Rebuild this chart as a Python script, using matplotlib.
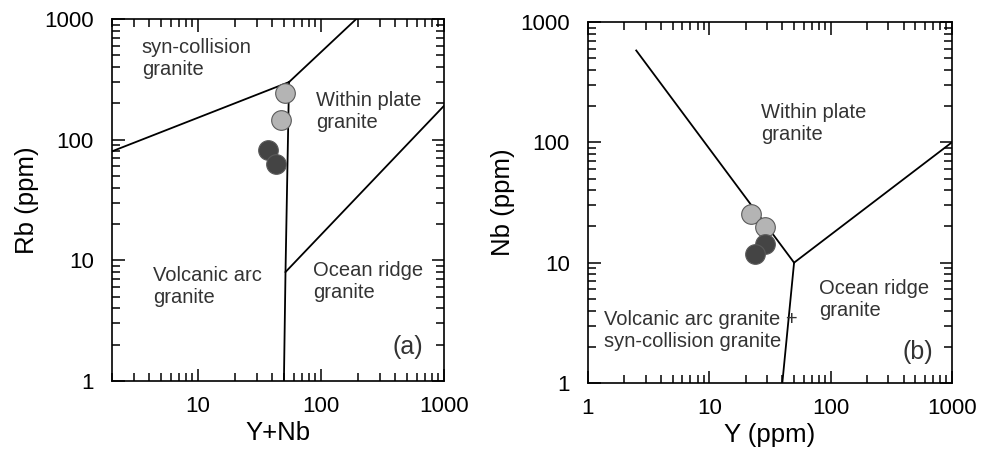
import numpy as np
import matplotlib
matplotlib.use('Agg')
import matplotlib.pyplot as plt
from matplotlib.ticker import LogLocator, NullFormatter, FixedFormatter, FixedLocator

plt.rcParams['font.family'] = ['Liberation Sans', 'DejaVu Sans']

# (a) Rb vs Y+Nb - sample points
a_light_x = [51, 47]
a_light_y = [244, 145]
a_dark_x = [37.4, 43.5]
a_dark_y = [82.6, 63.2]

# (a) field boundaries (Pearce et al. 1984)
a_syn_vag_x = [2, 55]
a_syn_vag_y = [80, 300]
a_syn_wpg_x = [55, 400]
a_syn_wpg_y = [300, 2000]
a_vag_wpg_x = [55, 51.5, 50]
a_vag_wpg_y = [300, 8, 1]
a_org_wpg_x = [51.5, 2000]
a_org_wpg_y = [8, 400]

# (b) Nb vs Y - sample points
b_light_x = [22.1, 29]
b_light_y = [25.3, 19.8]
b_dark_x = [29, 23.9]
b_dark_y = [14.2, 11.9]

# (b) field boundaries
b_wpg_vag_x = [2.5, 50]
b_wpg_vag_y = [580, 10]
b_org_wpg_x = [50, 1000]
b_org_wpg_y = [10, 100]
b_vag_org_x = [50, 40]
b_vag_org_y = [10, 1]

tick_labels = ['1', '10', '100', '1000']
tick_vals = [1, 10, 100, 1000]

light_c = '#b4b4b4'
dark_c = '#444444'
edge_c = '#5a5a5a'
text_c = '#333333'


def style_axes(ax, xlim, ylim, xlabel, ylabel):
    ax.set_xscale('log')
    ax.set_yscale('log')
    ax.set_xlim(*xlim)
    ax.set_ylim(*ylim)
    ax.xaxis.set_major_locator(FixedLocator(tick_vals))
    ax.yaxis.set_major_locator(FixedLocator(tick_vals))
    ax.xaxis.set_major_formatter(FixedFormatter(tick_labels))
    ax.yaxis.set_major_formatter(FixedFormatter(tick_labels))
    ax.xaxis.set_minor_locator(LogLocator(base=10, subs=np.arange(2, 10), numticks=20))
    ax.yaxis.set_minor_locator(LogLocator(base=10, subs=np.arange(2, 10), numticks=20))
    ax.xaxis.set_minor_formatter(NullFormatter())
    ax.yaxis.set_minor_formatter(NullFormatter())
    ax.tick_params(which='both', direction='in', top=True, right=True,
                   width=1.1, colors='black', labelsize=16)
    ax.tick_params(which='major', length=9)
    ax.tick_params(axis='y', which='major', pad=13)
    ax.tick_params(axis='x', which='major', pad=11)
    ax.tick_params(which='minor', length=6)
    for s in ax.spines.values():
        s.set_linewidth(1.2)
    ax.set_xlabel(xlabel, fontsize=18.5, labelpad=3)
    ax.set_ylabel(ylabel, fontsize=18.5, labelpad=4)


def main():
    fig = plt.figure(figsize=(9.89, 4.51), dpi=100)
    ax1 = fig.add_axes([0.1132, 0.1552, 0.3357, 0.8027])
    ax2 = fig.add_axes([0.5945, 0.1508, 0.3680, 0.8004])

    # panel (a)
    for xs, ys in [(a_syn_vag_x, a_syn_vag_y), (a_syn_wpg_x, a_syn_wpg_y),
                   (a_vag_wpg_x, a_vag_wpg_y), (a_org_wpg_x, a_org_wpg_y)]:
        ax1.plot(xs, ys, color='black', lw=1.3, zorder=2)
    ax1.scatter(a_light_x, a_light_y, s=200, c=light_c, edgecolors=edge_c, linewidths=0.8, zorder=3)
    ax1.scatter(a_dark_x, a_dark_y, s=200, c=dark_c, edgecolors=edge_c, linewidths=0.8, zorder=4)
    style_axes(ax1, (2, 1000), (1, 1000), 'Y+Nb', 'Rb (ppm)')
    kw = dict(fontsize=14.5, color=text_c, linespacing=1.2, va='center', ha='left')
    ax1.text(0.09, 0.892, 'syn-collision\ngranite', transform=ax1.transAxes, **kw)
    ax1.text(0.615, 0.745, 'Within plate\ngranite', transform=ax1.transAxes, **kw)
    ax1.text(0.125, 0.26, 'Volcanic arc\ngranite', transform=ax1.transAxes, **kw)
    ax1.text(0.605, 0.275, 'Ocean ridge\ngranite', transform=ax1.transAxes, **kw)
    ax1.text(0.845, 0.095, '(a)', transform=ax1.transAxes, fontsize=18, color=text_c,
             va='center', ha='left')

    # panel (b)
    for xs, ys in [(b_wpg_vag_x, b_wpg_vag_y), (b_org_wpg_x, b_org_wpg_y),
                   (b_vag_org_x, b_vag_org_y)]:
        ax2.plot(xs, ys, color='black', lw=1.3, zorder=2)
    ax2.scatter(b_light_x, b_light_y, s=200, c=light_c, edgecolors=edge_c, linewidths=0.8, zorder=3)
    ax2.scatter(b_dark_x, b_dark_y, s=200, c=dark_c, edgecolors=edge_c, linewidths=0.8, zorder=4)
    style_axes(ax2, (1, 1000), (1, 1000), 'Y (ppm)', 'Nb (ppm)')
    ax2.text(0.475, 0.72, 'Within plate\ngranite', transform=ax2.transAxes, **kw)
    ax2.text(0.635, 0.23, 'Ocean ridge\ngranite', transform=ax2.transAxes, **kw)
    ax2.text(0.045, 0.145, 'Volcanic arc granite +\nsyn-collision granite',
             transform=ax2.transAxes, **kw)
    ax2.text(0.865, 0.085, '(b)', transform=ax2.transAxes, fontsize=18, color=text_c,
             va='center', ha='left')

    fig.savefig('out.png', dpi=100)


if __name__ == '__main__':
    main()
